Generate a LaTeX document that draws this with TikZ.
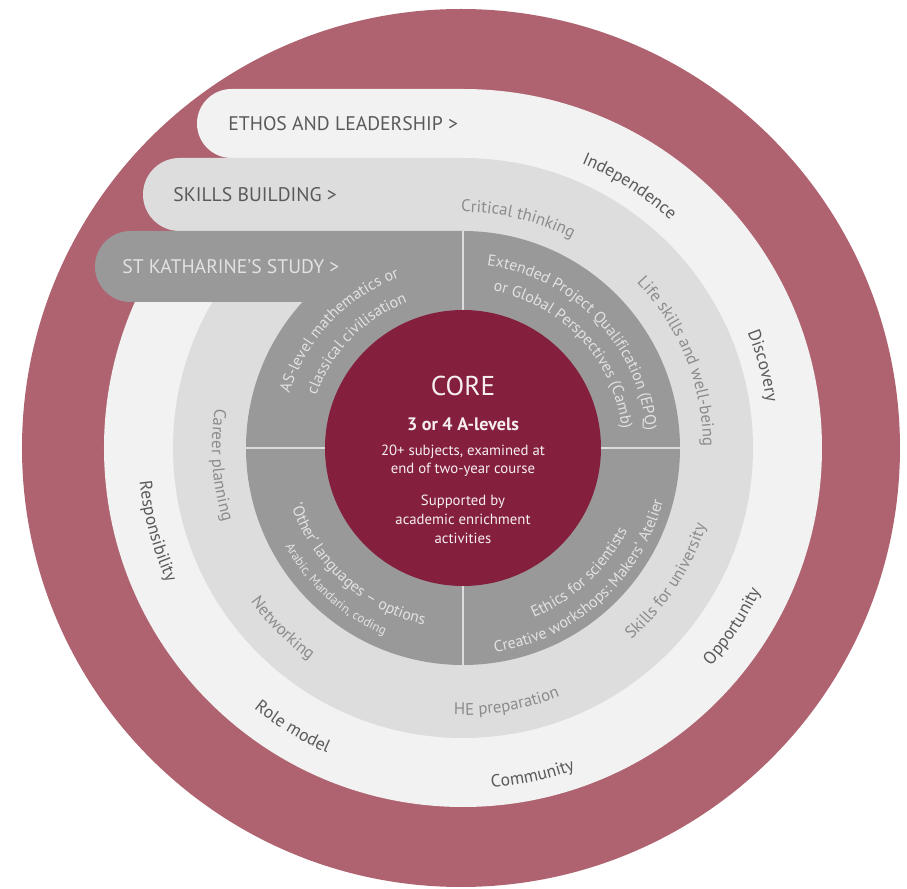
\documentclass[tikz,border=0pt]{standalone}
\usepackage{fontspec}
\setmainfont{PT Sans}
\usetikzlibrary{decorations.text}

\definecolor{rougeanneau}{HTML}{AF6370}
\definecolor{blanccasse}{HTML}{F2F2F2}
\definecolor{grisclair}{HTML}{DDDDDD}
\definecolor{grisfonce}{HTML}{999999}
\definecolor{rougecoeur}{HTML}{84203E}
\definecolor{trait}{HTML}{DCDCDC}
\definecolor{textefonce}{HTML}{5A5A5A}
\definecolor{textemoyen}{HTML}{8C8C8C}
\definecolor{texteclair}{HTML}{E2E2E2}
\definecolor{texteblanc}{HTML}{F6EEF0}

% formats des textes courbes
\newcommand{\anneauext}{\color{textefonce}\fontsize{10}{12}\selectfont}
\newcommand{\anneaumilieu}{\color{textemoyen}\fontsize{9.6}{11}\selectfont}
\newcommand{\anneauint}{\color{texteclair}\fontsize{9}{11}\selectfont}
\newcommand{\anneaupetit}{\color{texteclair}\fontsize{7.3}{9}\selectfont}

% texte sur un arc : angle, rayon, format, texte
\newcommand{\horaire}[4]{\path[decorate, decoration={text along path, text align=center, text={|#3|#4}}]
    ({#1+85}:#2) arc[start angle={#1+85}, end angle={#1-85}, radius=#2];}
\newcommand{\antihoraire}[4]{\path[decorate, decoration={text along path, text align=center, text={|#3|#4}}]
    ({#1-85}:#2) arc[start angle={#1-85}, end angle={#1+85}, radius=#2];}

\begin{document}
\begin{tikzpicture}[x=0.02cm, y=0.02cm,
    titre/.style={anchor=west, inner sep=0pt, font=\fontsize{11.2}{13}\selectfont},
    coeur/.style={text=texteblanc, inner sep=0pt, align=center},
    separateur/.style={draw=trait, line width=1.4pt}
]
    \useasboundingbox (-463,-441) rectangle (444,448);

    % anneaux et bandes
    \fill[rougeanneau] (-2,0) circle[radius=439];
    \fill[blanccasse] (0,0) circle[radius=359];
    \fill[blanccasse] (0,359) -- (-231.5,359) arc[start angle=90, end angle=270, radius=34.5] -- (0,290) -- cycle;
    \fill[grisclair] (0,0) circle[radius=290];
    \fill[grisclair] (0,290) -- (-283.5,290) arc[start angle=90, end angle=270, radius=36.5] -- (0,217) -- cycle;
    \fill[grisfonce] (0,0) circle[radius=217];
    \fill[grisfonce] (0,217) -- (-332.5,217) arc[start angle=90, end angle=270, radius=35.5] -- (0,146) -- cycle;
    \draw[separateur] (-217,0) -- (217,0);
    \draw[separateur] (0,217) -- (0,-217);
    \fill[rougecoeur] (0,0) circle[radius=138];

    \node[titre, text=textefonce] (ethos) at (-235,324.5) {ETHOS AND LEADERSHIP >};
    \node[titre, text=textefonce] (competences) at (-290,253.5) {SKILLS BUILDING >};
    \node[titre, text=texteclair] (etude) at (-341,181.5) {ST KATHARINE’S STUDY >};

    % coeur
    \node[coeur, font=\fontsize{15.5}{18}\selectfont] (core) at (0,62) {CORE};
    \node[coeur, font=\bfseries\fontsize{10.3}{12}\selectfont] (alevels) at (0,24) {3 or 4 A-levels};
    \node[coeur, font=\fontsize{8.4}{10.2}\selectfont] (sujets) at (0,-13) {20+ subjects, examined at\\end of two-year course};
    \node[coeur, font=\fontsize{8.4}{10.8}\selectfont] (soutien) at (0,-71) {Supported by\\academic enrichment\\activities};

    % anneau blanc
    \horaire{57.5}{308}{\anneauext}{Independence}
    \horaire{15.3}{307}{\anneauext}{Discovery}
    \antihoraire{-33.5}{330}{\anneauext}{Opportunity}
    \antihoraire{-78}{341}{\anneauext}{Community}
    \antihoraire{238.6}{334}{\anneauext}{Role model}
    \antihoraire{195.2}{325}{\anneauext}{Responsibility}

    % anneau gris clair
    \horaire{76.5}{236}{\anneaumilieu}{Critical thinking}
    \horaire{22}{240}{\anneaumilieu}{Life skills and well-being}
    \antihoraire{-33.2}{255}{\anneaumilieu}{Skills for university}
    \antihoraire{-80.3}{267}{\anneaumilieu}{HE preparation}
    \antihoraire{225}{262}{\anneaumilieu}{Networking}
    \antihoraire{184}{251}{\anneaumilieu}{Career planning}

    % anneau gris fonce
    \horaire{136.5}{182}{\anneauint}{AS-level mathematics or}
    \horaire{135.5}{156}{\anneauint}{classical civilisation}
    \horaire{44}{184}{\anneauint}{Extended Project Qualification (EPQ)}
    \horaire{43}{160}{\anneauint}{or Global Perspectives (Camb)}
    \antihoraire{228}{181}{\anneauint}{‘Other’ languages – options}
    \antihoraire{228}{203}{\anneaupetit}{Arabic, Mandarin, coding}
    \antihoraire{313}{184}{\anneauint}{Ethics for scientists}
    \antihoraire{312}{207}{\anneauint}{Creative workshops: Makers’ Atelier}
\end{tikzpicture}
\end{document}
